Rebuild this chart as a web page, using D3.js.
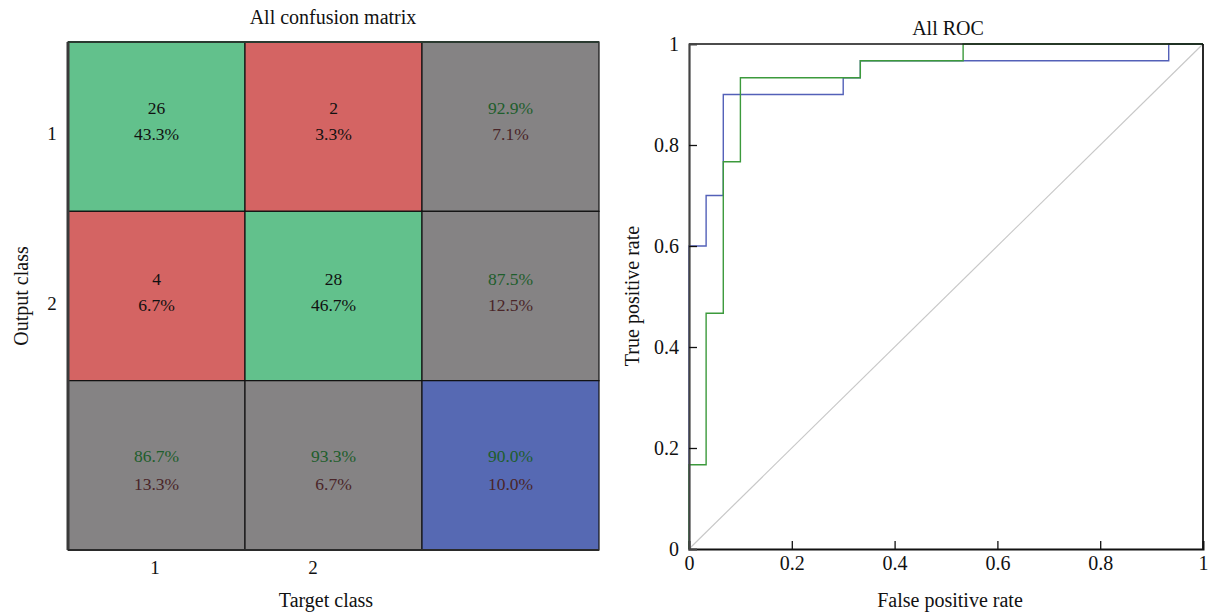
<!DOCTYPE html>
<html><head><meta charset="utf-8">
<script src="https://cdn.jsdelivr.net/npm/d3@7"></script>
<style>body{margin:0;background:#fff}svg{display:block}text{font-family:"Liberation Serif","DejaVu Serif",serif}</style>
</head><body><svg id="c" width="1212" height="614"></svg>
<script>
// ---------- data ----------
const classLabels = ["1", "2"];
const cellCounts = [[26, 2], [4, 28]];
const cellPercents = [[43.3, 3.3], [6.7, 46.7]];
const rowCorrect = [92.9, 87.5];
const rowWrong = [7.1, 12.5];
const colCorrect = [86.7, 93.3];
const colWrong = [13.3, 6.7];
const overallAcc = [90.0, 10.0];

const rocTicks = [0, 0.2, 0.4, 0.6, 0.8, 1];
const blueFPR = [0, 0.0333, 0.0667, 0.3, 0.3333, 0.9333, 1];
const blueTPR = [0, 0.6, 0.7, 0.9, 0.9333, 0.9667, 1];
const greenFPR = [0, 0.0333, 0.0667, 0.1, 0.3333, 0.5333, 1];
const greenTPR = [0, 0.1667, 0.4667, 0.7667, 0.9333, 0.9667, 1];

// ---------- setup ----------
const svg = d3.select("#c");
const FS = 17.5;   // cell text
const LS = 20;     // titles / axis labels
const C = {green:"#62c18c", red:"#d46463", gray:"#858384", blue:"#5669b3",
           tGreen:"#1e5e2c", tRed:"#4a2528"};

// ---------- confusion matrix ----------
const cm = {l:68, r:599, t:42, b:550};
const idx = [0, 1, 2];
const xb = d3.scaleBand().domain(idx).range([cm.l, cm.r]);
const yb = d3.scaleBand().domain(idx).range([cm.t, cm.b]);

const cells = [];
idx.forEach(r => idx.forEach(c => {
  let fill, l1, l2, c1, c2;
  if (r < 2 && c < 2) {
    fill = r === c ? C.green : C.red;
    l1 = String(cellCounts[r][c]); l2 = cellPercents[r][c].toFixed(1) + "%";
    c1 = "#111"; c2 = "#111";
  } else if (r < 2) {
    fill = C.gray; l1 = rowCorrect[r].toFixed(1) + "%"; l2 = rowWrong[r].toFixed(1) + "%";
    c1 = C.tGreen; c2 = C.tRed;
  } else if (c < 2) {
    fill = C.gray; l1 = colCorrect[c].toFixed(1) + "%"; l2 = colWrong[c].toFixed(1) + "%";
    c1 = C.tGreen; c2 = C.tRed;
  } else {
    fill = C.blue; l1 = overallAcc[0].toFixed(1) + "%"; l2 = overallAcc[1].toFixed(1) + "%";
    c1 = C.tGreen; c2 = C.tRed;
  }
  cells.push({r, c, fill, l1, l2, c1, c2});
}));

const g = svg.append("g");
g.selectAll("rect").data(cells).join("rect")
  .attr("x", d => xb(d.c)).attr("y", d => yb(d.r))
  .attr("width", xb.bandwidth()).attr("height", yb.bandwidth())
  .attr("fill", d => d.fill).attr("stroke", "#111").attr("stroke-width", 1.2);

const rowOff = [[-19, 7], [-17, 9], [-9, 19]];
g.selectAll("text.l1").data(cells).join("text").attr("class", "l1")
  .attr("x", d => xb(d.c) + xb.bandwidth() / 2)
  .attr("y", d => yb(d.r) + yb.bandwidth() / 2 + rowOff[d.r][0])
  .attr("text-anchor", "middle").attr("dominant-baseline", "central")
  .attr("font-size", FS).attr("fill", d => d.c1).text(d => d.l1);
g.selectAll("text.l2").data(cells).join("text").attr("class", "l2")
  .attr("x", d => xb(d.c) + xb.bandwidth() / 2)
  .attr("y", d => yb(d.r) + yb.bandwidth() / 2 + rowOff[d.r][1])
  .attr("text-anchor", "middle").attr("dominant-baseline", "central")
  .attr("font-size", FS).attr("fill", d => d.c2).text(d => d.l2);

// frame accents (axis lines)
g.append("line").attr("x1", cm.l).attr("x2", cm.l).attr("y1", cm.t).attr("y2", cm.b)
  .attr("stroke", "#3a3a3a").attr("stroke-width", 3);
g.append("line").attr("x1", cm.l).attr("x2", cm.r).attr("y1", cm.b).attr("y2", cm.b)
  .attr("stroke", "#2a2a2a").attr("stroke-width", 2.2);
g.append("line").attr("x1", cm.l).attr("x2", cm.r).attr("y1", cm.t).attr("y2", cm.t)
  .attr("stroke", "#2a3a30").attr("stroke-width", 2);

// tick labels
const xTick = d3.scaleLinear().domain([1, 2]).range([155, 313]);
g.selectAll("text.xt").data(classLabels).join("text").attr("class", "xt")
  .attr("x", (d, i) => xTick(i + 1)).attr("y", 567)
  .attr("text-anchor", "middle").attr("dominant-baseline", "central")
  .attr("font-size", 19).attr("fill", "#111").text(d => d);
g.selectAll("text.yt").data(classLabels).join("text").attr("class", "yt")
  .attr("x", 52).attr("y", (d, i) => yb(i) + yb.bandwidth() / 2 + 7)
  .attr("text-anchor", "middle").attr("dominant-baseline", "central")
  .attr("font-size", 19).attr("fill", "#111").text(d => d);

svg.append("text").attr("x", 333).attr("y", 17).attr("text-anchor", "middle")
  .attr("dominant-baseline", "central").attr("font-size", LS).attr("fill", "#111")
  .text("All confusion matrix");
svg.append("text").attr("x", 326).attr("y", 600).attr("text-anchor", "middle")
  .attr("dominant-baseline", "central").attr("font-size", LS).attr("fill", "#111")
  .text("Target class");
svg.append("text").attr("transform", "translate(21,296) rotate(-90)").attr("text-anchor", "middle")
  .attr("dominant-baseline", "central").attr("font-size", LS).attr("fill", "#111")
  .text("Output class");

// ---------- ROC ----------
const ro = {l:689, r:1203, t:44, b:549};
const x = d3.scaleLinear().domain([0, 1]).range([ro.l, ro.r]);
const y = d3.scaleLinear().domain([0, 1]).range([ro.b, ro.t]);
const rg = svg.append("g");

rg.append("line").attr("x1", x(0)).attr("y1", y(0)).attr("x2", x(1)).attr("y2", y(1))
  .attr("stroke", "#c8c8c8").attr("stroke-width", 1.2);

const line = d3.line().x(d => x(d[0])).y(d => y(d[1])).curve(d3.curveStepBefore);
rg.append("path").attr("d", line(d3.zip(blueFPR, blueTPR)))
  .attr("fill", "none").attr("stroke", "#5360b8").attr("stroke-width", 1.4);
rg.append("path").attr("d", line(d3.zip(greenFPR, greenTPR)))
  .attr("fill", "none").attr("stroke", "#3c9a3c").attr("stroke-width", 1.4);

// frame
rg.append("line").attr("x1", ro.l).attr("x2", ro.r).attr("y1", ro.t).attr("y2", ro.t)
  .attr("stroke", "#111").attr("stroke-width", 1.6);
rg.append("line").attr("x1", ro.r).attr("x2", ro.r).attr("y1", ro.t).attr("y2", ro.b)
  .attr("stroke", "#111").attr("stroke-width", 1.8);

const xAxis = d3.axisBottom(x).tickValues(rocTicks).tickSize(-8).tickPadding(12)
  .tickFormat(d3.format("~g"));
const yAxis = d3.axisLeft(y).tickValues(rocTicks).tickSize(-8).tickPadding(10)
  .tickFormat(d3.format("~g"));
const gx = rg.append("g").attr("transform", `translate(0,${ro.b})`).call(xAxis);
const gy = rg.append("g").attr("transform", `translate(${ro.l},0)`).call(yAxis);
[gx, gy].forEach(a => {
  a.selectAll("text").attr("font-size", 20).attr("fill", "#111")
    .attr("font-family", "Liberation Serif, serif");
  a.selectAll(".tick line").attr("stroke", "#111").attr("stroke-width", 1.3);
  a.selectAll(".tick").filter(d => d === 0 || d === 1).select("line").remove();
});
gx.select(".domain").attr("stroke", "#111").attr("stroke-width", 2);
gy.select(".domain").attr("stroke", "#444").attr("stroke-width", 2.2);
gx.selectAll("text").attr("dy", "0.45em");

svg.append("text").attr("x", 948).attr("y", 28).attr("text-anchor", "middle")
  .attr("dominant-baseline", "central").attr("font-size", LS).attr("fill", "#111")
  .text("All ROC");
svg.append("text").attr("x", 950).attr("y", 600).attr("text-anchor", "middle")
  .attr("dominant-baseline", "central").attr("font-size", LS).attr("fill", "#111")
  .text("False positive rate");
svg.append("text").attr("transform", "translate(632,296) rotate(-90)").attr("text-anchor", "middle")
  .attr("dominant-baseline", "central").attr("font-size", LS).attr("fill", "#111")
  .text("True positive rate");
</script></body></html>
